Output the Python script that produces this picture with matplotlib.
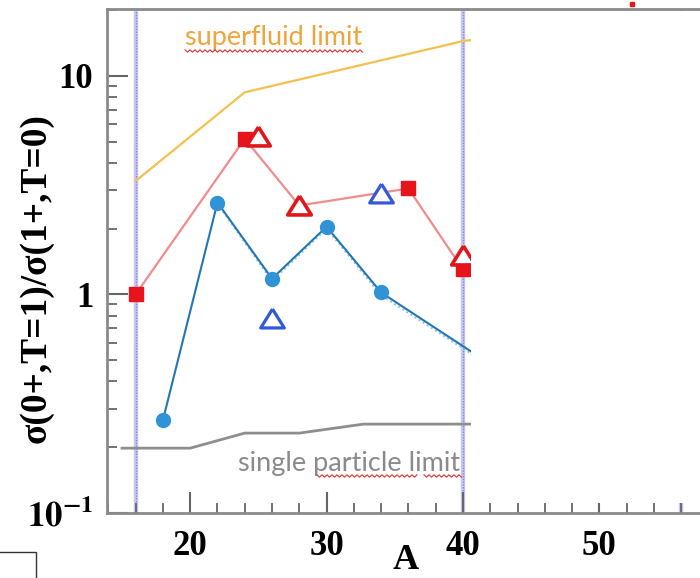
import numpy as np
import matplotlib
matplotlib.use('Agg')
import matplotlib.pyplot as plt
from matplotlib.patches import Rectangle
from matplotlib.lines import Line2D
from matplotlib.ticker import FixedLocator, FixedFormatter, NullFormatter, MultipleLocator, LogLocator

plt.rcParams['mathtext.fontset'] = 'stix'

# ---------------- data ----------------
A_red_line = [16, 24, 28, 36, 40]
ratio_red_line = [1.0, 5.15, 2.55, 3.05, 1.30]
A_red_sq = [16, 24, 36, 40]
ratio_red_sq = [1.0, 5.15, 3.05, 1.30]
A_red_tri = [25, 28, 40]
ratio_red_tri = [5.3, 2.55, 1.51]
A_blue_tri = [26, 34]
ratio_blue_tri = [0.78, 2.92]
A_blue = [18, 22, 26, 30, 34, 42]
ratio_blue = [0.266, 2.63, 1.18, 2.04, 1.02, 0.48]
A_blue_dot = [22, 26, 30, 34, 42]
ratio_blue_dot = [2.60, 1.15, 2.00, 0.99, 0.47]
A_superfluid = [16, 24, 40, 44]
ratio_superfluid = [3.3, 8.4, 14.4, 15.5]
A_single = [15, 20, 24, 28, 32.7, 44]
ratio_single = [0.198, 0.198, 0.232, 0.232, 0.255, 0.255]
A_vlines = [16, 40, 56]
A_top_mark = [52.4]
ratio_top_mark = [21.3]

x_major = [20, 30, 40, 50]
x_major_labels = ['20', '30', '40', '50']
y_major = [0.1, 1, 10]
y_major_labels = [r'$\mathbf{10^{-1}}$', '1', '10']

W, H = 700, 578
fig = plt.figure(figsize=(7.0, 5.78), dpi=100)
ax = fig.add_axes([107 / W, 1 - 513 / H, (703 - 107) / W, (513 - 9) / H])
ax.set_yscale('log')
ax.set_xlim(13.9, 57.6)
ax.set_ylim(0.1, 20.2)

# vertical reference lines
for xv in A_vlines:
    ax.axvline(xv, color='#c8c8f2', lw=3.2, zorder=1)
    ax.axvline(xv, color='#8686da', lw=1.0, ls=(0, (1, 1)), zorder=1.1)

# limits
ax.plot(A_superfluid, ratio_superfluid, color='#f4c04e', lw=1.6, zorder=2)
ax.plot(A_single, ratio_single, color='#8e8e8e', lw=2.0, zorder=2)

# red series
ax.plot(A_red_line, ratio_red_line, color='#f28b8b', lw=1.6, zorder=3)
ax.plot(A_red_sq, ratio_red_sq, ls='none', marker='s', ms=9.5, color='#e8141b', zorder=4)
tri = [(0, 0.8), (-1, -0.8), (1, -0.8), (0, 0.8)]
ax.plot(A_red_tri, ratio_red_tri, ls='none', marker=tri, ms=17, mfc='white',
        mec='#e0161a', mew=2.6, zorder=5)

# blue series
ax.plot(A_blue_dot, ratio_blue_dot, color='#8fc3e6', lw=1.4, ls=(0, (1, 1.5)), zorder=3)
ax.plot(A_blue, ratio_blue, color='#2377b0', lw=1.5, marker='o', ms=10,
        mfc='#2f93d6', mec='#2f93d6', zorder=4)
ax.plot(A_blue_tri, ratio_blue_tri, ls='none', marker=tri, ms=17, mfc='white',
        mec='#3358d8', mew=2.3, zorder=5)

ax.plot(A_top_mark, ratio_top_mark, ls='none', marker='s', ms=3, color='#e8141b',
        clip_on=False, zorder=1)

# axes styling
for s in ['left', 'bottom', 'top']:
    ax.spines[s].set_color('#8a8a8a')
    ax.spines[s].set_linewidth(2)
ax.spines['right'].set_visible(False)

ax.xaxis.set_major_locator(FixedLocator(x_major))
ax.xaxis.set_major_formatter(FixedFormatter(x_major_labels))
ax.xaxis.set_minor_locator(MultipleLocator(2))
ax.yaxis.set_major_locator(FixedLocator(y_major))
ax.yaxis.set_major_formatter(FixedFormatter(y_major_labels))
ax.yaxis.set_minor_locator(LogLocator(base=10, subs=np.arange(2, 10)))
ax.yaxis.set_minor_formatter(NullFormatter())

ax.tick_params(which='both', direction='in', top=False, right=False, color='#666666')
ax.tick_params(which='major', length=15, width=1.5)
ax.tick_params(which='minor', length=7, width=1.3)
ax.tick_params(axis='x', which='major', pad=12)
ax.tick_params(axis='y', which='major', pad=10)
for lab in ax.get_xticklabels() + ax.get_yticklabels():
    lab.set_fontfamily('Liberation Serif')
    lab.set_fontweight('bold')
    lab.set_fontsize(25)

# axis labels
fig.text(36 / W, 1 - 278 / H, 'σ(0+,T=1)/σ(1+,T=0)', rotation=90, ha='center', va='center',
         family='Liberation Serif', weight='bold', fontsize=27)
fig.text(406 / W, 1 - 577 / H, 'A', ha='center', va='bottom',
         family='Liberation Serif', weight='bold', fontsize=26)

# annotations
fig.text(185 / W, 1 - 38 / H, 'superfluid limit', ha='left', va='center',
         family='Lato', fontsize=19.5, color='#f0a53c')
fig.text(238 / W, 1 - 463 / H, 'single particle limit', ha='left', va='center',
         family='Lato', fontsize=19.5, color='#8a8a8a')


def squiggle(x0, x1, y):
    xs = np.arange(x0, x1 + 0.1, 2.5)
    ys = y + np.where(np.arange(len(xs)) % 2 == 0, -1.2, 1.2)
    fig.add_artist(Line2D(xs / W, 1 - ys / H, color='#e03030', lw=0.8,
                          transform=fig.transFigure, zorder=6))


squiggle(185, 363, 51)
squiggle(317, 418, 476)
squiggle(424, 462, 476)

# white panel covering the right part of the plot
fig.add_artist(Rectangle((471 / W, 1 - 503 / H), (W - 471) / W, (503 - 11) / H,
                         transform=fig.transFigure, facecolor='white', edgecolor='none', zorder=5))

# small box at the bottom left corner
fig.add_artist(Rectangle((-2 / W, 1 - (H + 2) / H), 38 / W, (H + 2 - 552) / H,
                         transform=fig.transFigure, facecolor='white', edgecolor='#333333',
                         lw=1.0, zorder=6))

fig.savefig('out.png', dpi=100)
